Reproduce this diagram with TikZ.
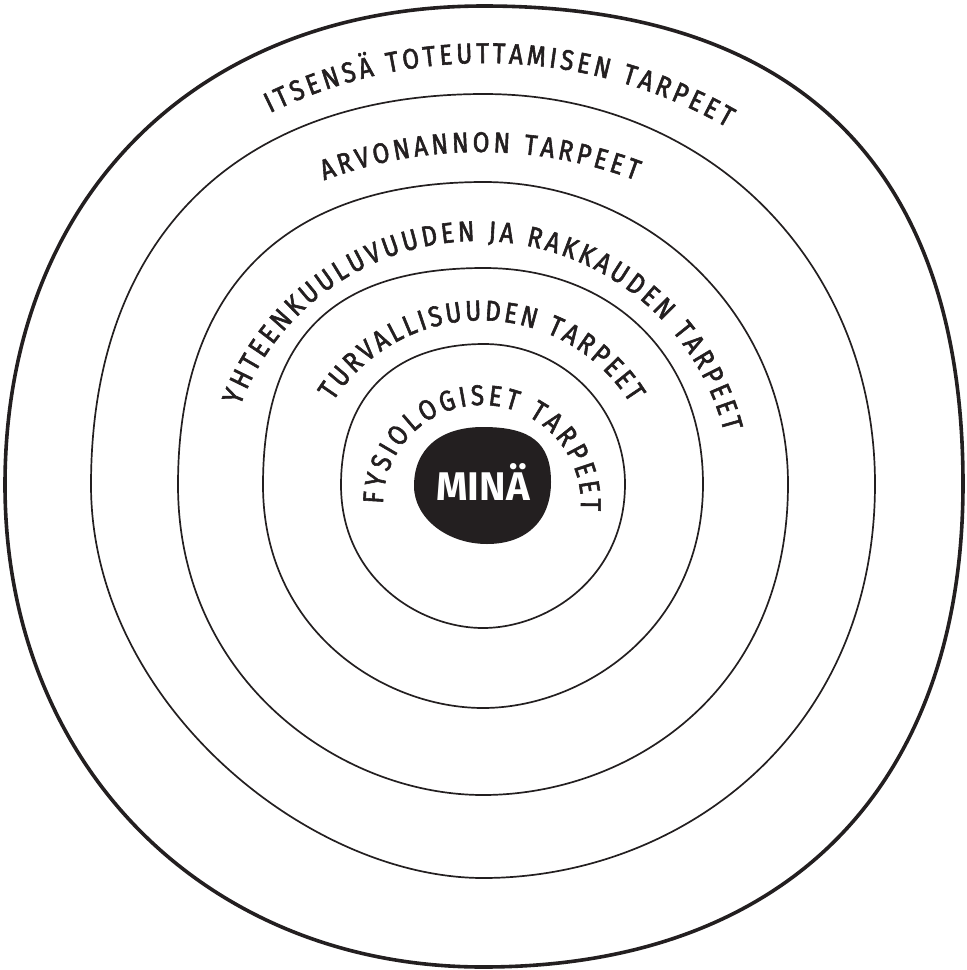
\documentclass[tikz,border=0pt]{standalone}
\usepackage{fontspec}
\setsansfont{Fira Sans}
\newfontfamily\ringfamily[FakeStretch=0.85, FakeBold=2]{Fira Sans}
\newcommand{\ringfont}{\ringfamily\fontsize{28.5}{30}\selectfont}
\usepackage{tikz}
\usetikzlibrary{decorations.text}
\definecolor{Ink}{HTML}{231F20}

\begin{document}
\begin{tikzpicture}[
  x=1pt, y=-1pt,
  ring/.style={draw=Ink, line width=1.7pt},
  outerring/.style={draw=Ink, line width=3.6pt},
  core/.style={fill=Ink, draw=none},
  corelabel/.style={anchor=base, text=white, font=\sffamily\bfseries\fontsize{40}{40}\selectfont, inner sep=0pt},
  ringlabel/.style={decorate, decoration={text along path, text align=fit to path, text={|\ringfont\color{Ink}|#1}}}
]
\useasboundingbox (0,0) rectangle (967,970);

% rings, outside in
\draw[outerring] (484,6) .. controls (800,6) and (963,169) .. (963,484)
  .. controls (963,788) and (785,967) .. (483,967)
  .. controls (206,967) and (5,765) .. (5,485)
  .. controls (5,198) and (197,6) .. (484,6) -- cycle;
\draw[ring] (484,94) .. controls (707,94) and (875,262) .. (875,484)
  .. controls (875,736) and (679,878) .. (483,878)
  .. controls (307,878) and (91,701) .. (91,485)
  .. controls (91,239) and (236,94) .. (484,94) -- cycle;
\draw[ring] (484,182) .. controls (651,182) and (788,318) .. (788,484)
  .. controls (788,695) and (626,795) .. (483,795)
  .. controls (340,795) and (178,680) .. (178,485)
  .. controls (178,288) and (285,182) .. (484,182) -- cycle;
\draw[ring] (484,268) .. controls (613,268) and (703,357) .. (703,484)
  .. controls (703,630) and (582,708) .. (483,708)
  .. controls (384,708) and (263,631) .. (263,485)
  .. controls (263,337) and (334,268) .. (484,268) -- cycle;
\draw[ring] (484,344) .. controls (562,344) and (625,407) .. (625,484)
  .. controls (625,578) and (547,628) .. (483,628)
  .. controls (419,628) and (341,578) .. (341,485)
  .. controls (341,396) and (394,344) .. (484,344) -- cycle;

% the centre
\fill[core] (483,427) .. controls (531,427) and (551,443) .. (551,482)
  .. controls (551,520) and (527,544) .. (487,544)
  .. controls (447,544) and (414,518) .. (414,486)
  .. controls (414,449) and (440,427) .. (483,427) -- cycle;
\node[corelabel] (mina) at (483,500) {MINÄ};

% labels along the rings
\coordinate (c1) at (485,550);
\coordinate (c2) at (480,595);
\coordinate (c3) at (478,495);
\coordinate (c4) at (481,496);
\coordinate (c5) at (482,504);
\path[ringlabel={ITSENSÄ TOTEUTTAMISEN TARPEET}] (c1) ++(116.2:487pt) arc[start angle=116.2, end angle=60.2, radius=487pt];
\path[ringlabel={ARVONANNON TARPEET}] (c2) ++(110.6:443pt) arc[start angle=110.6, end angle=69.4, radius=443pt];
\path[ringlabel={YHTEENKUULUVUUDEN JA RAKKAUDEN TARPEET}] (c3) ++(159.5:254pt) arc[start angle=159.5, end angle=14.4, radius=254pt];
\path[ringlabel={TURVALLISUUDEN TARPEET}] (c4) ++(147.4:175.6pt) arc[start angle=147.4, end angle=31.9, radius=175.6pt];
\path[ringlabel={FYSIOLOGISET TARPEET}] (c5) ++(180:99pt) arc[start angle=180, end angle=-4, radius=99pt];
\end{tikzpicture}
\end{document}
